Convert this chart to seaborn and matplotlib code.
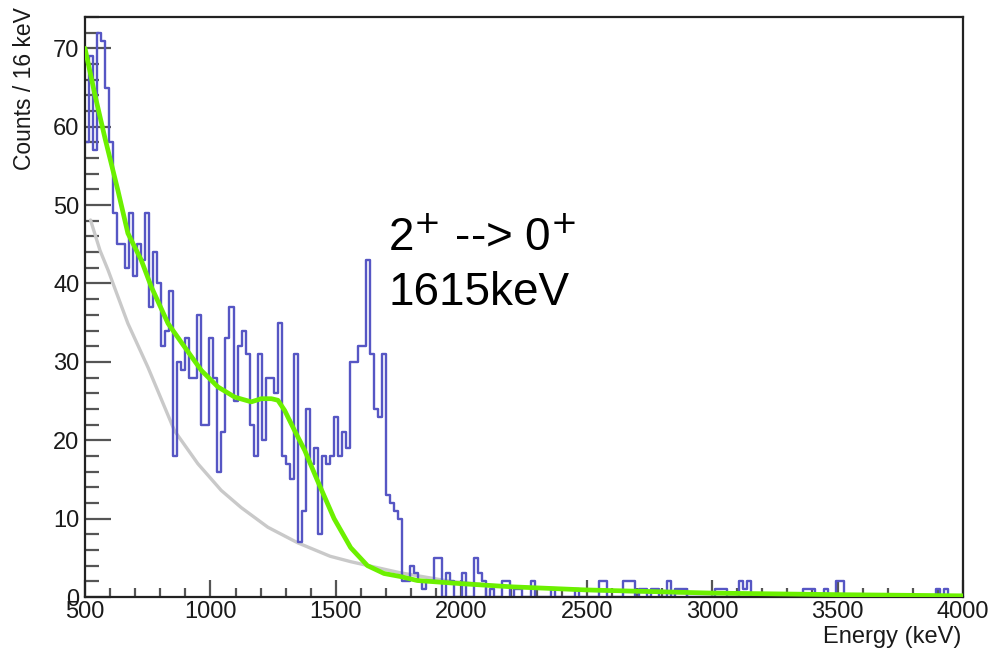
import numpy as np
import pandas as pd
import matplotlib
matplotlib.use("Agg")
import matplotlib.pyplot as plt
import seaborn as sns
from matplotlib.ticker import MultipleLocator

# ---------------- data ----------------
BIN_WIDTH = 16
E_MIN, E_MAX = 500, 4000

# counts per 16 keV bin, starting at 500 keV (bins 0..90)
counts_main = [58, 69, 57, 72, 71, 65, 58, 49, 45, 45,
               42, 49, 41, 45, 43, 49, 37, 44, 40, 32,
               34, 39, 18, 30, 29, 33, 28, 28, 36, 22,
               22, 33, 28, 16, 21, 33, 37, 25, 32, 34,
               31, 22, 18, 31, 20, 28, 28, 26, 35, 18,
               17, 15, 31, 7, 11, 24, 17, 19, 8, 18,
               17, 18, 23, 18, 21, 19, 30, 30, 32, 32,
               43, 31, 24, 23, 31, 13, 12, 11, 10, 2,
               2, 4, 3, 2, 1, 2, 2, 5, 5, 0,
               3]

# sparse tail (bin index, counts)
tail_bins = [91, 94, 97, 98, 99, 101, 104, 105, 107, 108, 111, 116, 122,
             128, 129, 134, 135, 136, 138, 139, 141, 142, 145, 147, 148,
             149, 157, 158, 159, 163, 164, 165, 179, 180, 181, 184, 187,
             188, 212, 214]
tail_counts = [2, 3, 5, 3, 2, 1, 2, 2, 1, 1, 2, 1, 1,
               2, 2, 2, 2, 2, 1, 1, 1, 1, 2, 1, 1,
               1, 1, 1, 1, 2, 1, 2, 1, 1, 1, 1, 2,
               2, 1, 1]

# green curve (model)
green_e = [500, 540, 580, 631, 671, 724, 764, 831, 897, 964, 1030, 1097,
           1163, 1203, 1243, 1269, 1296, 1336, 1376, 1426, 1493, 1559,
           1626, 1692, 1759, 1825, 2000, 2200, 2500, 3000, 3500, 4000]
green_v = [70.0, 64.0, 58.5, 51.9, 46.4, 43.0, 39.6, 34.9, 31.9, 28.9,
           26.8, 25.5, 24.9, 25.3, 25.3, 25.1, 23.8, 21.2, 18.7, 14.9,
           10.0, 6.3, 4.0, 3.0, 2.6, 2.1, 1.7, 1.3, 0.9, 0.5, 0.3, 0.15]

# grey curve (background)
gray_e = [522, 560, 592, 671, 751, 857, 950, 1043, 1123, 1229, 1349,
          1477, 1560, 1755, 1955, 2154, 2550, 3000, 3500, 4000]
gray_v = [48.1, 44.2, 41.7, 34.9, 29.3, 21.2, 17.0, 13.6, 11.4, 8.9, 6.9,
          5.2, 4.5, 3.1, 2.0, 1.4, 0.8, 0.4, 0.2, 0.1]

x_ticks = [500, 1000, 1500, 2000, 2500, 3000, 3500, 4000]
y_ticks = [0, 10, 20, 30, 40, 50, 60, 70]

# ---------------- build histogram table ----------------
n_bins = int(np.ceil((E_MAX - E_MIN) / BIN_WIDTH))
edges = [float(E_MIN + BIN_WIDTH * i) for i in range(n_bins + 1)]
counts = np.zeros(n_bins)
counts[:len(counts_main)] = counts_main
counts[np.array(tail_bins)] = tail_counts
centers = [e + BIN_WIDTH / 2 for e in edges[:-1]]
hist_df = pd.DataFrame({"energy": centers, "counts": counts})

# ---------------- style ----------------
sns.set_theme(style="white")
plt.rcParams["font.family"] = ["Liberation Sans", "DejaVu Sans"]
plt.rcParams["mathtext.fontset"] = "dejavusans"

fig = plt.figure(figsize=(9.94, 6.51), dpi=100)
ax = fig.add_axes([85 / 994, 1 - 597 / 651, (963 - 85) / 994, (597 - 17) / 651])

BLUE = "#5656c4"
GREEN = "#6cf000"
GREY = "#c9c9c9"

sns.lineplot(x=gray_e, y=gray_v, color=GREY, linewidth=2.4, ax=ax,
             zorder=1.5, sort=False, estimator=None)
sns.histplot(data=hist_df, x="energy", weights="counts", bins=edges,
             element="step", fill=False, color=BLUE, linewidth=1.7,
             ax=ax, zorder=2)
sns.lineplot(x=green_e, y=green_v, color=GREEN, linewidth=3.4, ax=ax,
             zorder=3, sort=False, estimator=None)

ax.set_xlim(E_MIN, E_MAX)
ax.set_ylim(0, 74.0)
ax.set_xticks(x_ticks)
ax.set_yticks(y_ticks)
ax.xaxis.set_minor_locator(MultipleLocator(100))
ax.yaxis.set_minor_locator(MultipleLocator(2))

ax.tick_params(axis="both", which="both", direction="in", colors="#555555",
               labelcolor="#1a1a1a", labelsize=17, width=1.6,
               top=False, right=False, left=True, bottom=True)
ax.tick_params(axis="y", which="major", length=19, pad=4)
ax.tick_params(axis="y", which="minor", length=10)
ax.tick_params(axis="x", which="major", length=12, pad=3)
ax.tick_params(axis="x", which="minor", length=6.5)

for sp in ax.spines.values():
    sp.set_color("#222222")
    sp.set_linewidth(1.6)
ax.grid(False)

ax.set_xlabel("")
ax.set_ylabel("")
fig.text(961 / 994, 1 - 643 / 651, "Energy (keV)", ha="right", va="baseline",
         fontsize=17, color="#1a1a1a")
fig.text(25 / 994, 1 - 7 / 651, "Counts / 16 keV", rotation=90, ha="center",
         va="top", fontsize=16.5, color="#1a1a1a")

ax.text(1708, 44.2, r"2$^{+}$ --> 0$^{+}$", fontsize=33,
        color="black", va="baseline", ha="left")
ax.text(1708, 37.2, "1615keV", fontsize=33,
        color="black", va="baseline", ha="left")

fig.savefig("out.png", dpi=100, facecolor="white")
